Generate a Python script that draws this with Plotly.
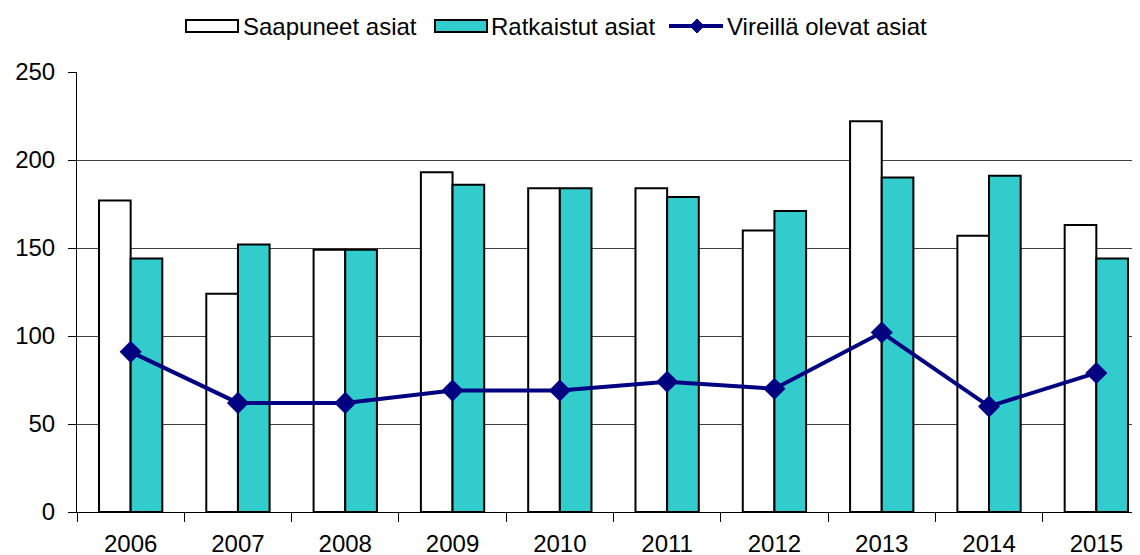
import plotly.graph_objects as go

years = ["2006", "2007", "2008", "2009", "2010", "2011", "2012", "2013", "2014", "2015"]
saapuneet = [177, 124, 149, 193, 184, 184, 160, 222, 157, 163]
ratkaistut = [144, 152, 149, 186, 184, 179, 171, 190, 191, 144]
vireilla = [91, 62, 62, 69, 69, 74, 70, 102, 60, 79]
series_names = ["Saapuneet asiat", "Ratkaistut asiat", "Vireillä olevat asiat"]

# page body has an 8px margin, so the figure sits 8px right/down in the window
OFF = 8
W, H = 1140, 555
L, R, T, B = 77 - OFF, OFF, 72 - OFF, 555 - 512 + OFF


def px(x):
    # screen x -> paper
    return (x - OFF - L) / (W - L - R)


def py(y):
    # screen y -> paper
    return (H - B - (y - OFF)) / (H - T - B)


fig = go.Figure()
fig.add_trace(go.Bar(x=years, y=saapuneet, name=series_names[0],
                     marker=dict(color="white", line=dict(color="black", width=2))))
fig.add_trace(go.Bar(x=years, y=ratkaistut, name=series_names[1],
                     marker=dict(color="#33CCCC", line=dict(color="black", width=2))))
fig.add_trace(go.Scatter(x=years, y=vireilla, name=series_names[2],
                         mode="lines+markers",
                         line=dict(color="#000080", width=4),
                         marker=dict(symbol="diamond", size=17, color="#000080")))

# hand-made legend, Excel style
shapes = [
    dict(type="rect", xref="paper", yref="paper", x0=px(186), x1=px(238), y0=py(20), y1=py(32),
         fillcolor="white", line=dict(color="black", width=2), layer="above"),
    dict(type="rect", xref="paper", yref="paper", x0=px(435), x1=px(487), y0=py(20), y1=py(32),
         fillcolor="#33CCCC", line=dict(color="black", width=2), layer="above"),
    dict(type="line", xref="paper", yref="paper", x0=px(669), x1=px(723), y0=py(26), y1=py(26),
         line=dict(color="#000080", width=4), layer="above"),
    dict(type="path", xref="paper", yref="paper",
         path="M {a},{c} L {b},{d} L {e},{c} L {b},{f} Z".format(
             a=px(690), b=px(697), e=px(704), c=py(26), d=py(19), f=py(33)),
         fillcolor="#000080", line=dict(color="#000080", width=1), layer="above"),
]
annotations = [
    dict(xref="paper", yref="paper", x=px(x0), y=py(26), text=t, showarrow=False,
         xanchor="left", yanchor="middle", font=dict(size=24))
    for x0, t in zip([241, 489, 725], series_names)
]

fig.update_layout(
    width=W, height=H,
    margin=dict(l=L, r=R, t=T, b=B, autoexpand=False),
    paper_bgcolor="white", plot_bgcolor="white",
    font=dict(family="Liberation Sans, Arial", size=24, color="black"),
    barmode="group", bargap=0.41, bargroupgap=0,
    showlegend=False,
    shapes=shapes, annotations=annotations,
    xaxis=dict(type="category", range=[-0.5, 9.407], showline=True, linecolor="black",
               linewidth=1, ticks="outside", tickson="boundaries", ticklen=9,
               tickcolor="black", showgrid=False, automargin=False,
               ticklabelstandoff=10),
    yaxis=dict(range=[0, 250], dtick=50, showline=True, linecolor="black", linewidth=1,
               ticks="outside", ticklen=8, tickcolor="black",
               gridcolor="#404040", gridwidth=1, zeroline=False, automargin=False,
               ticklabelstandoff=8),
)

fig.write_html("out.html")
